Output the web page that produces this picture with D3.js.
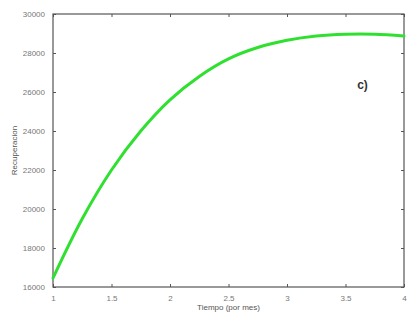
<!DOCTYPE html>
<html>
<head>
<meta charset="utf-8">
<script src="https://cdn.jsdelivr.net/npm/d3@7"></script>
<style>
  body { margin: 0; background: #fff; }
  svg { display: block; font-family: "Liberation Sans", "DejaVu Sans", sans-serif; }
</style>
</head>
<body>
<svg id="chart" width="411" height="317"></svg>
<script>
// Data
var tiempo = [1.0, 1.25, 1.5, 1.75, 2.0, 2.25, 2.5, 2.75, 3.0, 3.25, 3.5, 3.75, 4.0];
var recuperacion = [16460, 19500, 22000, 24000, 25600, 26800, 27700, 28280, 28650, 28870, 28960, 28960, 28870];
var xTicks = [1, 1.5, 2, 2.5, 3, 3.5, 4];
var yTicks = [16000, 18000, 20000, 22000, 24000, 26000, 28000, 30000];

var frameColour = '#555';
var tickTextColour = '#777';
var lineColour = '#30e030';

var margin = { left: 53, right: 7, top: 14, bottom: 30 };
var width = 411, height = 317;

var svg = d3.select('#chart');

var x = d3.scaleLinear().domain([1, 4]).range([margin.left, width - margin.right]);
var y = d3.scaleLinear().domain([16000, 30000]).range([height - margin.bottom, margin.top]);

// inward ticks on all four sides
function styleAxis(g) {
  g.select('.domain').remove();
  g.selectAll('.tick line').attr('stroke', frameColour);
  g.selectAll('.tick text').attr('fill', tickTextColour).attr('font-size', 8);
}

svg.append('g')
  .attr('transform', 'translate(0,' + y.range()[0] + ')')
  .call(d3.axisBottom(x).tickValues(xTicks).tickSize(-3).tickPadding(8).tickFormat(d3.format('')))
  .call(styleAxis);

svg.append('g')
  .attr('transform', 'translate(0,' + y.range()[1] + ')')
  .call(d3.axisTop(x).tickValues(xTicks).tickSize(-3).tickFormat(''))
  .call(styleAxis);

svg.append('g')
  .attr('transform', 'translate(' + x.range()[0] + ',0)')
  .call(d3.axisLeft(y).tickValues(yTicks).tickSize(-3).tickPadding(8).tickFormat(d3.format('d')))
  .call(styleAxis);

svg.append('g')
  .attr('transform', 'translate(' + x.range()[1] + ',0)')
  .call(d3.axisRight(y).tickValues(yTicks).tickSize(-3).tickFormat(''))
  .call(styleAxis);

// frame
svg.append('rect')
  .attr('x', x.range()[0])
  .attr('y', y.range()[1])
  .attr('width', x.range()[1] - x.range()[0])
  .attr('height', y.range()[0] - y.range()[1])
  .attr('fill', 'none')
  .attr('stroke', frameColour)
  .attr('stroke-width', 1.2);

// curve
var line = d3.line()
  .x(function (d, i) { return x(tiempo[i]); })
  .y(function (d) { return y(d); })
  .curve(d3.curveCatmullRom);

svg.append('path')
  .datum(recuperacion)
  .attr('d', line)
  .attr('fill', 'none')
  .attr('stroke', lineColour)
  .attr('stroke-width', 3)
  .attr('stroke-linecap', 'round');

// axis titles
svg.append('text')
  .attr('x', (x.range()[0] + x.range()[1]) / 2)
  .attr('y', 310)
  .attr('text-anchor', 'middle')
  .attr('font-size', 8)
  .attr('fill', '#555')
  .text('Tiempo (por mes)');

svg.append('text')
  .attr('transform', 'translate(17,' + (y.range()[0] + y.range()[1]) / 2 + ') rotate(-90)')
  .attr('text-anchor', 'middle')
  .attr('font-size', 8)
  .attr('fill', '#555')
  .text('Recuperacion');

svg.append('text')
  .attr('x', x(3.6))
  .attr('y', y(26150))
  .attr('font-size', 12)
  .attr('font-weight', 'bold')
  .attr('fill', '#333')
  .text('c)');
</script>
</body>
</html>
